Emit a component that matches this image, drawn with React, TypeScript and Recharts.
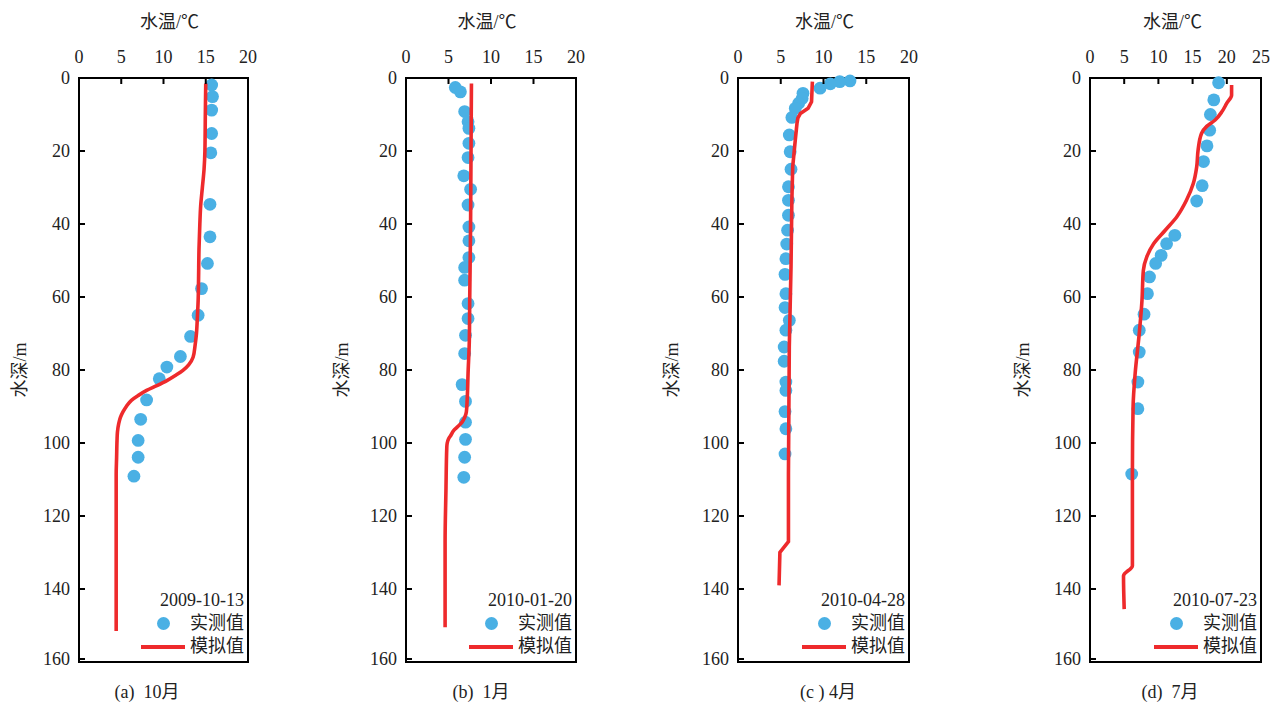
import React from "react";
import { ScatterChart, Scatter, XAxis, YAxis, ReferenceArea, Legend } from "recharts";

type Pt = { d: number; t: number };

// measured profiles (depth m, temperature °C)
const octObs: Pt[] = [
  { d: 1.9, t: 15.7 }, { d: 5.1, t: 15.8 }, { d: 8.8, t: 15.7 }, { d: 15.2, t: 15.7 },
  { d: 20.5, t: 15.6 }, { d: 34.6, t: 15.5 }, { d: 43.5, t: 15.5 }, { d: 50.8, t: 15.2 },
  { d: 57.7, t: 14.5 }, { d: 65, t: 14.1 }, { d: 70.8, t: 13.2 }, { d: 76.3, t: 12.0 },
  { d: 79.2, t: 10.4 }, { d: 82.4, t: 9.5 }, { d: 88.2, t: 8.0 }, { d: 93.5, t: 7.3 },
  { d: 99.3, t: 7.0 }, { d: 103.9, t: 7.0 }, { d: 109.1, t: 6.5 },
];
const octSim: Pt[] = [
  { d: 1.5, t: 15.0 }, { d: 10, t: 14.95 }, { d: 20, t: 14.9 }, { d: 25, t: 14.8 },
  { d: 30, t: 14.6 }, { d: 35, t: 14.4 }, { d: 40, t: 14.3 }, { d: 47, t: 14.2 },
  { d: 55, t: 14.15 }, { d: 61, t: 14.1 }, { d: 66, t: 14.0 }, { d: 70, t: 13.9 },
  { d: 73, t: 13.75 }, { d: 76.5, t: 13.5 }, { d: 78.5, t: 13.0 }, { d: 80.1, t: 12.3 },
  { d: 81.5, t: 11.4 }, { d: 82.9, t: 10.4 }, { d: 84.3, t: 9.2 }, { d: 85.6, t: 8.0 },
  { d: 87, t: 7.0 }, { d: 88.3, t: 6.2 }, { d: 90, t: 5.6 }, { d: 91.5, t: 5.2 },
  { d: 93, t: 4.9 }, { d: 94.7, t: 4.7 }, { d: 97, t: 4.55 }, { d: 99.3, t: 4.5 },
  { d: 104, t: 4.45 }, { d: 108.5, t: 4.4 }, { d: 120, t: 4.4 }, { d: 135, t: 4.4 },
  { d: 151.5, t: 4.4 },
];

const janObs: Pt[] = [
  { d: 2.6, t: 5.8 }, { d: 3.8, t: 6.4 }, { d: 9.2, t: 6.9 }, { d: 12, t: 7.3 },
  { d: 13.8, t: 7.4 }, { d: 17.9, t: 7.4 }, { d: 21.8, t: 7.3 }, { d: 26.8, t: 6.8 },
  { d: 30.5, t: 7.6 }, { d: 34.8, t: 7.3 }, { d: 40.8, t: 7.4 }, { d: 44.6, t: 7.4 },
  { d: 49.2, t: 7.4 }, { d: 51.9, t: 6.9 }, { d: 55.4, t: 6.9 }, { d: 61.8, t: 7.3 },
  { d: 65.9, t: 7.3 }, { d: 70.5, t: 7.0 }, { d: 75.5, t: 6.9 }, { d: 84, t: 6.6 },
  { d: 88.6, t: 7.0 }, { d: 94.3, t: 7.0 }, { d: 99, t: 7.0 }, { d: 103.9, t: 6.9 },
  { d: 109.4, t: 6.8 },
];
const janSim: Pt[] = [
  { d: 1.5, t: 7.7 }, { d: 20, t: 7.65 }, { d: 40, t: 7.6 }, { d: 60, t: 7.5 },
  { d: 72, t: 7.45 }, { d: 81, t: 7.3 }, { d: 88, t: 7.2 }, { d: 91.5, t: 7.1 },
  { d: 93, t: 6.9 }, { d: 94.3, t: 6.6 }, { d: 95.5, t: 6.1 }, { d: 96.6, t: 5.6 },
  { d: 97.8, t: 5.3 }, { d: 98.9, t: 5.0 }, { d: 100, t: 4.85 }, { d: 101.1, t: 4.8 },
  { d: 113, t: 4.7 }, { d: 127, t: 4.6 }, { d: 150.5, t: 4.6 },
];

const aprObs: Pt[] = [
  { d: 0.8, t: 13.1 }, { d: 1.0, t: 11.9 }, { d: 1.6, t: 10.8 }, { d: 2.8, t: 9.6 },
  { d: 4.2, t: 7.6 }, { d: 5.6, t: 7.5 }, { d: 6.9, t: 7.1 }, { d: 8.3, t: 6.7 },
  { d: 10.8, t: 6.3 }, { d: 15.6, t: 6.0 }, { d: 20.2, t: 6.1 }, { d: 25, t: 6.2 },
  { d: 29.8, t: 5.9 }, { d: 33.5, t: 5.9 }, { d: 37.6, t: 5.9 }, { d: 41.7, t: 5.8 },
  { d: 45.5, t: 5.7 }, { d: 49.5, t: 5.6 }, { d: 53.8, t: 5.5 }, { d: 59.1, t: 5.6 },
  { d: 62.9, t: 5.5 }, { d: 66.4, t: 6.0 }, { d: 69.1, t: 5.6 }, { d: 73.7, t: 5.4 },
  { d: 77.6, t: 5.4 }, { d: 83.3, t: 5.6 }, { d: 85.6, t: 5.6 }, { d: 91.4, t: 5.5 },
  { d: 96.1, t: 5.6 }, { d: 103, t: 5.5 },
];
const aprSim: Pt[] = [
  { d: 1.0, t: 8.7 }, { d: 6.5, t: 8.6 }, { d: 8.3, t: 8.2 }, { d: 9.7, t: 7.3 },
  { d: 11, t: 7.0 }, { d: 12.4, t: 6.9 }, { d: 17, t: 6.7 }, { d: 24.3, t: 6.4 },
  { d: 33.5, t: 6.3 }, { d: 51.8, t: 6.2 }, { d: 73.7, t: 6.0 }, { d: 108.5, t: 5.9 },
  { d: 127, t: 5.9 }, { d: 130, t: 4.9 }, { d: 139, t: 4.8 },
];

const julObs: Pt[] = [
  { d: 1.3, t: 18.8 }, { d: 6, t: 18.1 }, { d: 10, t: 17.6 }, { d: 14.3, t: 17.5 },
  { d: 18.6, t: 17.1 }, { d: 22.9, t: 16.6 }, { d: 29.5, t: 16.4 }, { d: 33.7, t: 15.6 },
  { d: 43.1, t: 12.4 }, { d: 45.4, t: 11.2 }, { d: 48.6, t: 10.4 }, { d: 50.8, t: 9.6 },
  { d: 54.5, t: 8.7 }, { d: 59.1, t: 8.4 }, { d: 64.7, t: 7.9 }, { d: 69.1, t: 7.2 },
  { d: 75.1, t: 7.2 }, { d: 83.3, t: 7.0 }, { d: 90.6, t: 7.0 }, { d: 108.5, t: 6.1 },
];
const julSim: Pt[] = [
  { d: 1.9, t: 20.7 }, { d: 4.7, t: 20.7 }, { d: 6.9, t: 20.0 }, { d: 9.2, t: 19.3 },
  { d: 11.5, t: 18.3 }, { d: 13.2, t: 17.1 }, { d: 15.2, t: 16.3 }, { d: 19.8, t: 15.8 },
  { d: 24.3, t: 15.6 }, { d: 28.9, t: 15.1 }, { d: 33.5, t: 14.1 }, { d: 38, t: 12.7 },
  { d: 41.7, t: 11.0 }, { d: 45.4, t: 9.3 }, { d: 49, t: 8.3 }, { d: 52.7, t: 7.8 },
  { d: 60.9, t: 7.6 }, { d: 70, t: 7.2 }, { d: 81, t: 6.6 }, { d: 90, t: 6.3 },
  { d: 108.5, t: 6.2 }, { d: 133.6, t: 6.2 }, { d: 136.4, t: 4.9 }, { d: 145.5, t: 5.0 },
];

const tempTicks20 = [0, 5, 10, 15, 20];
const tempTicks25 = [0, 5, 10, 15, 20, 25];
const depthTicks = [0, 20, 40, 60, 80, 100, 120, 140, 160];

const BLUE = "#4ab0e4";
const RED = "#ee2a2c";
const TXT = "#222";
const SERIF = '"Liberation Serif", "Times New Roman", "Noto Sans CJK SC", serif';

const TopTick = ({ x, y, payload }: any) => (
  <g>
    <text x={x} y={y} textAnchor="middle" fontFamily={SERIF} fontSize={18} fill={TXT}>
      {payload.value}
    </text>
    <line x1={x} x2={x} y1={y + 15} y2={y + 21} stroke="#000" strokeWidth={2} />
  </g>
);

const LeftTick = ({ x, y, payload }: any) => (
  <g>
    <text x={x} y={y} dy="0.35em" textAnchor="end" fontFamily={SERIF} fontSize={18} fill={TXT}>
      {payload.value}
    </text>
    <line x1={x + 9} x2={x + 15} y1={y} y2={y} stroke="#000" strokeWidth={2} />
  </g>
);

const makeLegend = (date: string) => () => (
  <div style={{ fontFamily: SERIF, fontSize: 18, color: TXT, lineHeight: "23px", textAlign: "right" }}>
    <div>{date}</div>
    <div style={{ display: "flex", justifyContent: "flex-end", alignItems: "center" }}>
      <span style={{ width: 44, display: "flex", justifyContent: "center" }}>
        <span style={{ width: 13, height: 13, borderRadius: "50%", background: BLUE }} />
      </span>
      <span style={{ marginLeft: 5 }}>实测值</span>
    </div>
    <div style={{ display: "flex", justifyContent: "flex-end", alignItems: "center" }}>
      <span style={{ width: 44, height: 4, background: RED }} />
      <span style={{ marginLeft: 5 }}>模拟值</span>
    </div>
  </div>
);

type PanelProps = {
  left: number;
  width: number;
  obs: Pt[];
  sim: Pt[];
  xMax: number;
  xTicks: number[];
  date: string;
  caption: string;
  captionX: number;
  titleDx: number;
  yTitleOffset: number;
  curve: "monotoneY" | "linear";
};

const PLOT_TOP = 78;
const PLOT_H = 584;
const PAD_L = 15;
const AXIS_W = 70;

function Panel(p: PanelProps) {
  const chartW = PAD_L + AXIS_W + p.width + 12;
  return (
    <>
      <div style={{ position: "absolute", left: p.left - AXIS_W - PAD_L, top: 0 }}>
        <ScatterChart
          width={chartW}
          height={PLOT_TOP + PLOT_H + 6}
          margin={{ top: 45, right: 12, bottom: 6, left: PAD_L }}
        >
          <XAxis
            type="number"
            dataKey="t"
            orientation="top"
            domain={[0, p.xMax]}
            ticks={p.xTicks}
            height={33}
            tickSize={0}
            tickMargin={15}
            axisLine={false}
            tickLine={false}
            tick={<TopTick />}
            label={{
              value: "水温/℃",
              position: "top",
              offset: 17,
              dx: p.titleDx,
              fontSize: 18,
              fontFamily: SERIF,
              fill: TXT,
            }}
          />
          <YAxis
            type="number"
            dataKey="d"
            reversed
            domain={[0, 160]}
            ticks={depthTicks}
            width={AXIS_W}
            tickSize={0}
            tickMargin={9}
            axisLine={false}
            tickLine={false}
            tick={<LeftTick />}
            label={{
              value: "水深/m",
              angle: -90,
              position: "insideLeft",
              offset: p.yTitleOffset,
              fontSize: 18,
              fontFamily: SERIF,
              fill: TXT,
              style: { textAnchor: "middle" },
            }}
          />
          <Scatter
            data={p.obs}
            isAnimationActive={false}
            shape={(s: any) => <circle cx={s.cx} cy={s.cy} r={6.4} fill={BLUE} />}
          />
          <Scatter
            data={p.sim}
            isAnimationActive={false}
            line={{ stroke: RED, strokeWidth: 3.6 }}
            lineJointType={p.curve}
            shape={() => <g />}
          />
          <ReferenceArea
            x1={0}
            x2={p.xMax}
            y1={0}
            y2={160}
            fill="none"
            stroke="#000"
            strokeWidth={2}
            ifOverflow="visible"
          />
          <Legend
            layout="vertical"
            align="center"
            verticalAlign="middle"
            content={makeLegend(p.date)}
            wrapperStyle={{ top: 589, bottom: "auto", left: PAD_L + AXIS_W + p.width - 118, width: 114 }}
          />
        </ScatterChart>
      </div>
      <div
        style={{
          position: "absolute",
          left: p.captionX - 60,
          width: 120,
          top: 680,
          textAlign: "center",
          fontFamily: SERIF,
          fontSize: 18,
          color: TXT,
          lineHeight: "24px",
          whiteSpace: "pre",
        }}
      >
        {p.caption}
      </div>
    </>
  );
}

export default function App() {
  return (
    <div style={{ position: "absolute", left: 0, top: 0, width: 1273, height: 702, background: "#fff", overflow: "hidden" }}>
      <Panel left={79} width={169} obs={octObs} sim={octSim} xMax={20} xTicks={tempTicks20}
        date="2009-10-13" caption="(a)  10月" captionX={147} titleDx={6} yTitleOffset={11} curve="monotoneY" />
      <Panel left={406} width={170} obs={janObs} sim={janSim} xMax={20} xTicks={tempTicks20}
        date="2010-01-20" caption="(b)  1月" captionX={481} titleDx={-4} yTitleOffset={6} curve="monotoneY" />
      <Panel left={738} width={171} obs={aprObs} sim={aprSim} xMax={20} xTicks={tempTicks20}
        date="2010-04-28" caption="(c ) 4月" captionX={828} titleDx={1} yTitleOffset={4} curve="linear" />
      <Panel left={1090} width={171} obs={julObs} sim={julSim} xMax={25} xTicks={tempTicks25}
        date="2010-07-23" caption="(d)  7月" captionX={1170} titleDx={-3} yTitleOffset={3} curve="monotoneY" />
    </div>
  );
}
